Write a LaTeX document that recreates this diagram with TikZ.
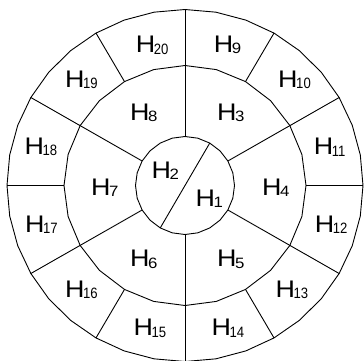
\documentclass[tikz,border=0pt]{standalone}
\usepackage{fontspec}
\usepackage{graphicx}
\newfontfamily\labfont[FakeStretch=1.12]{Liberation Sans}
\newcommand{\labH}[1]{{\labfont\fontsize{24}{24}\selectfont H\kern-1.4pt\raisebox{-1.5pt}{\fontsize{15}{15}\selectfont #1}}}
\newcommand{\labHH}[1]{{\labfont\fontsize{24}{24}\selectfont H\kern-1.4pt\raisebox{-1.5pt}{\scalebox{0.78}[1]{\fontsize{15}{15}\selectfont #1}}}}
\begin{document}
\begin{tikzpicture}[x=1pt,y=-1pt,
  ringline/.style={line width=0.9pt},
  lab/.style={anchor=base west,inner sep=0pt,outer sep=0pt}]
\useasboundingbox (0,0) rectangle (364,360);
\begin{scope}[ringline]
% rings (polygonal circles)
\draw plot[samples=37,domain=0:360] ({185+178*cos(\x)},{185.5-176*sin(\x)}) -- cycle;
\draw plot[samples=25,domain=0:360] ({185+121*cos(\x)},{185.5-120*sin(\x)}) -- cycle;
\draw plot[samples=25,domain=0:360] ({185+49.5*cos(\x)},{185.5-49*sin(\x)}) -- cycle;
\foreach \a in {0,30,...,330} {
  \coordinate (o\a) at ({185+178*cos(\a)},{185.5-176*sin(\a)});
  \coordinate (m\a) at ({185+121*cos(\a)},{185.5-120*sin(\a)});
  \coordinate (i\a) at ({185+49.5*cos(\a)},{185.5-49*sin(\a)});
}
\foreach \a in {30,90,150,210,270,330} \draw (i\a) -- (o\a);
\foreach \a in {0,60,120,180,240,300} \draw (m\a) -- (o\a);
\draw (i60) -- (i240);
\end{scope}
% labels
\node[lab] (h1) at (195.5,206) {\labH{1}};
\node[lab] (h2) at (151.5,178) {\labH{2}};
\node[lab] (h3) at (217.2,120) {\labH{3}};
\node[lab] (h4) at (262.2,195) {\labH{4}};
\node[lab] (h5) at (217.2,266.7) {\labH{5}};
\node[lab] (h6) at (130.2,266.7) {\labH{6}};
\node[lab] (h7) at (91.2,195) {\labH{7}};
\node[lab] (h8) at (130.2,120) {\labH{8}};
\node[lab] (h9) at (213.8,52.3) {\labH{9}};
\node[lab] (h10) at (278.2,87.3) {\labHH{10}};
\node[lab] (h11) at (313.8,154.5) {\labHH{11}};
\node[lab] (h12) at (314.8,232.3) {\labHH{12}};
\node[lab] (h13) at (275.5,297.3) {\labHH{13}};
\node[lab] (h14) at (211.5,335.7) {\labHH{14}};
\node[lab] (h15) at (133.5,335.7) {\labHH{15}};
\node[lab] (h16) at (65.2,297.3) {\labHH{16}};
\node[lab] (h17) at (25.2,232.3) {\labHH{17}};
\node[lab] (h18) at (24.5,154.3) {\labHH{18}};
\node[lab] (h19) at (65.2,87.3) {\labHH{19}};
\node[lab] (h20) at (135.8,52.7) {\labHH{20}};
\end{tikzpicture}
\end{document}
